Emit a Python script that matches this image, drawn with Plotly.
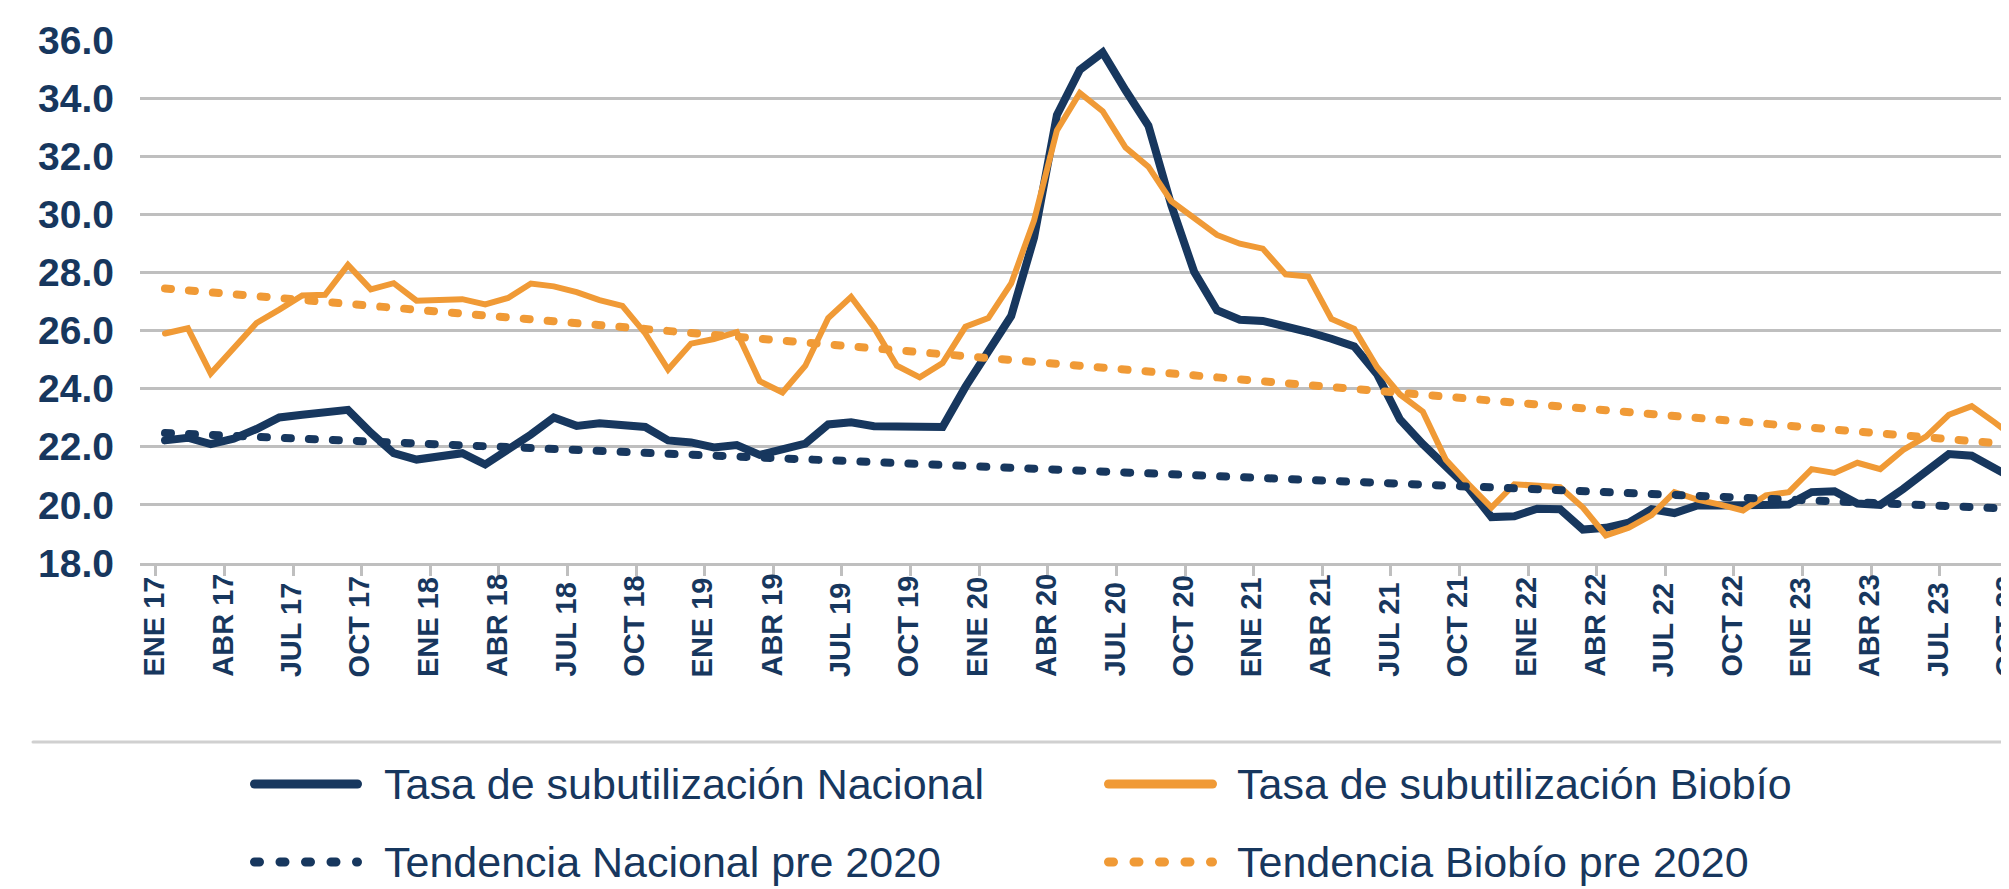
import plotly.graph_objects as go

# ---------------- data ----------------
# monthly index: 0 = ENE 2017 ... 81 = OCT 2023
month_index = list(range(82))

tasa_nacional = [
    22.22, 22.31, 22.09, 22.28, 22.61, 23.01, 23.10, 23.20, 23.27, 22.48,
    21.78, 21.56, 21.69, 21.78, 21.39, 21.89, 22.42, 23.01, 22.72, 22.81,
    22.75, 22.68, 22.22, 22.15, 21.98, 22.06, 21.72, 21.89, 22.11, 22.77,
    22.84, 22.71, 22.68, 22.71, 22.68, 24.06, 25.31, 26.50, 29.20, 33.42,
    34.97, 35.57, 34.27, 33.05, 30.32, 28.02, 26.70, 26.37, 26.33, 26.17,
    25.95, 25.72, 25.45, 24.50, 22.94, 22.09, 21.36, 20.57, 19.58, 19.61,
    19.87, 19.85, 19.15, 19.21, 19.39, 19.85, 19.72, 19.98, 19.98, 20.01,
    19.98, 20.01, 20.44, 20.47, 20.05, 20.00, 20.55, 21.15, 21.75, 21.69,
    21.26, 20.83,
]

tasa_biobio = [
    25.90, 26.08, 24.52, 25.40, 26.26, 26.72, 27.21, 27.23, 28.26, 27.42,
    27.63, 27.03, 27.03, 27.08, 26.90, 27.12, 27.62, 27.52, 27.32, 27.05,
    26.85, 25.90, 24.66, 25.55, 25.71, 25.95, 24.26, 23.87, 24.79, 26.43,
    27.16, 26.11, 24.79, 24.39, 24.88, 26.13, 26.43, 27.62, 29.79, 32.89,
    34.18, 33.55, 32.30, 31.64, 30.45, 29.86, 29.29, 28.99, 28.82, 27.93,
    27.86, 26.40, 26.06, 24.74, 23.80, 23.21, 21.56, 20.71, 19.91, 20.71,
    20.66, 20.61, 19.91, 18.95, 19.21, 19.65, 20.44, 20.18, 20.01, 19.81,
    20.33, 20.44, 21.23, 21.10, 21.45, 21.23, 21.89, 22.35, 23.10, 23.40,
    22.84, 22.25,
]

# linear trends (pre-2020), end points
trend_x = [0, 81]
tendencia_nacional = [22.47, 19.86]
tendencia_biobio = [27.45, 22.06]

tick_labels = [
    "ENE 17", "ABR 17", "JUL 17", "OCT 17",
    "ENE 18", "ABR 18", "JUL 18", "OCT 18",
    "ENE 19", "ABR 19", "JUL 19", "OCT 19",
    "ENE 20", "ABR 20", "JUL 20", "OCT 20",
    "ENE 21", "ABR 21", "JUL 21", "OCT 21",
    "ENE 22", "ABR 22", "JUL 22", "OCT 22",
    "ENE 23", "ABR 23", "JUL 23", "OCT 23",
]
tick_month = [3 * k for k in range(len(tick_labels))]

legend_names = [
    "Tasa de subutilización Nacional",
    "Tasa de subutilización Biobío",
    "Tendencia Nacional pre 2020",
    "Tendencia Biobío pre 2020",
]

# ---------------- style ----------------
NAVY = "#17375E"
ORANGE = "#F09A36"
GRID = "#BFBFBF"
OFF = 8                      # default body margin of the html page
W, H = 2009 - OFF, 889 - OFF
ML, MT = 140 - OFF, 40 - OFF
PLOT_BOTTOM = 563 - OFF
MB = H - PLOT_BOTTOM
MR = 0
PW, PH = W - ML - MR, H - MT - MB


def px_x(px):   # page pixel -> paper x
    return (px - OFF - ML) / PW


def px_y(py):   # page pixel -> paper y
    return (PLOT_BOTTOM - (py - OFF)) / PH


fig = go.Figure()
fig.add_trace(go.Scatter(x=month_index, y=tasa_nacional, mode="lines",
                         line=dict(color=NAVY, width=8), name=legend_names[0],
                         showlegend=False))
fig.add_trace(go.Scatter(x=month_index, y=tasa_biobio, mode="lines",
                         line=dict(color=ORANGE, width=6), name=legend_names[1],
                         showlegend=False))
fig.add_trace(go.Scatter(x=trend_x, y=tendencia_nacional, mode="lines",
                         line=dict(color=NAVY, width=8, dash="6px,18px"),
                         name=legend_names[2], showlegend=False))
fig.add_trace(go.Scatter(x=trend_x, y=tendencia_biobio, mode="lines",
                         line=dict(color=ORANGE, width=8, dash="6px,18px"),
                         name=legend_names[3], showlegend=False))

x_lo = -1.093
x_hi = x_lo + PW / 22.87

fig.update_layout(
    width=W, height=H,
    margin=dict(l=ML, r=MR, t=MT, b=MB, pad=0, autoexpand=False),
    paper_bgcolor="white", plot_bgcolor="white",
    showlegend=False,
    xaxis=dict(
        range=[x_lo, x_hi], showgrid=False, zeroline=False,
        showline=True, linecolor=GRID, linewidth=2.5,
        tickmode="array", tickvals=[m - 0.4 for m in tick_month],
        ticktext=["" for _ in tick_labels],
        ticks="outside", ticklen=10, tickwidth=2.5, tickcolor=GRID,
        showticklabels=False, automargin=False,
    ),
    yaxis=dict(
        range=[18, 36], dtick=2, tick0=18, tickformat=".1f",
        showgrid=True, gridcolor=GRID, gridwidth=2.5,
        zeroline=False, showline=False, ticks="",
        tickfont=dict(family="Liberation Sans", size=39, color=NAVY, weight="bold"),
        ticklabelstandoff=25, automargin=False,
    ),
)

annotations = []
for m, lab in zip(tick_month, tick_labels):
    annotations.append(dict(
        x=m - 0.5, xref="x", y=0, yref="paper", yshift=-116,
        text=lab, textangle=-90, showarrow=False,
        xanchor="center", yanchor="bottom",
        font=dict(family="Liberation Sans", size=29, color=NAVY, weight="bold"),
    ))

# legend (manual), positions in page pixels
leg_rows = [784, 862]
leg_cols = [(250, 362, 382), (1104, 1217, 1235)]
leg_styles = [
    (NAVY, None), (ORANGE, None),
    (NAVY, "5px,20.5px"), (ORANGE, "5px,20.5px"),
]
shapes = [dict(type="line", xref="paper", yref="paper",
               x0=px_x(33), x1=px_x(2009), y0=px_y(742), y1=px_y(742),
               line=dict(color="#D0D0D0", width=3))]
for k, name in enumerate(legend_names):
    row, col = divmod(k, 2)
    x0, x1, xt = leg_cols[col]
    yy = leg_rows[row]
    color, dash = leg_styles[k]
    ln = dict(color=color, width=9)
    if dash:
        ln["dash"] = dash
    shapes.append(dict(type="line", xref="paper", yref="paper",
                       x0=px_x(x0 + 4.5), x1=px_x(x1 - 4.5),
                       y0=px_y(yy), y1=px_y(yy), line=ln))
    annotations.append(dict(
        x=px_x(xt), xref="paper", y=px_y(yy), yref="paper",
        text=name, showarrow=False, xanchor="left", yanchor="middle",
        font=dict(family="Liberation Sans", size=43, color=NAVY),
    ))

fig.update_layout(annotations=annotations, shapes=shapes)

round_caps = """
document.querySelectorAll('.scatterlayer .js-line, .shapelayer path').forEach(function(p){
  p.style.strokeLinecap = 'round';
});
"""

fig.write_html("out.html", post_script=round_caps)
